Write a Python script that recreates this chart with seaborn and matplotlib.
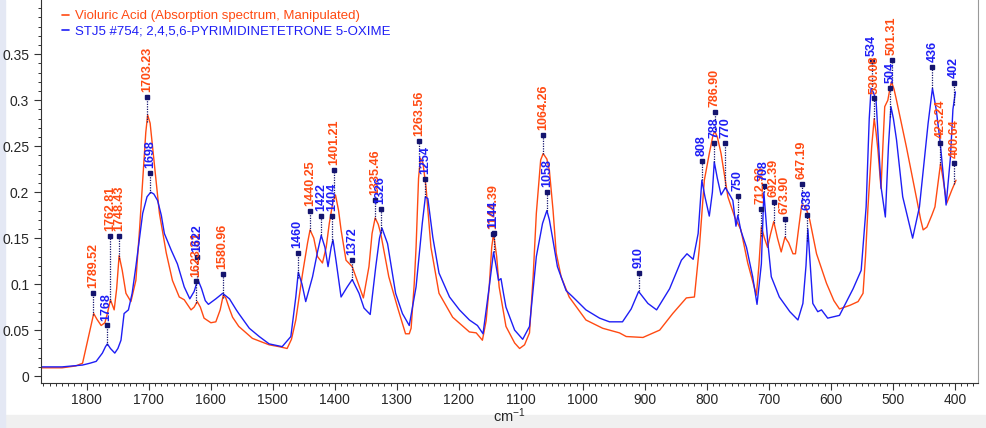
import numpy as np
import pandas as pd
import matplotlib
matplotlib.use("Agg")
import matplotlib.pyplot as plt
from matplotlib.ticker import MultipleLocator
import seaborn as sns

# Violuric Acid (absorption spectrum, manipulated)
red_wn = [1874, 1840, 1818, 1807, 1796, 1789, 1784, 1777, 1771, 1767, 1762, 1756, 1752, 1748,
          1743, 1737, 1729, 1721, 1715, 1710, 1705, 1702, 1698, 1694, 1688, 1683, 1672, 1662,
          1651, 1643, 1632, 1627, 1622, 1617, 1611, 1600, 1592, 1585, 1580, 1576, 1570, 1565,
          1555, 1533, 1506, 1490, 1477, 1470, 1463, 1452, 1444, 1440, 1434, 1428, 1420, 1414,
          1409, 1403, 1399, 1394, 1390, 1382, 1372, 1364, 1354, 1345, 1340, 1335, 1330, 1326,
          1313, 1299, 1286, 1280, 1277, 1272, 1269, 1265, 1262, 1258, 1253, 1245, 1232, 1210,
          1183, 1172, 1162, 1156, 1151, 1147, 1144, 1139, 1135, 1124, 1110, 1102, 1094, 1086,
          1080, 1075, 1068, 1064, 1058, 1054, 1048, 1043, 1035, 1022, 995, 968, 941, 930, 903,
          876, 855, 833, 820, 812, 804, 796, 790, 787, 783, 777, 766, 755, 745, 734, 720, 716,
          712, 707, 702, 697, 692, 686, 680, 674, 668, 661, 657, 652, 647, 641, 634, 623, 607,
          595, 586, 569, 556, 548, 544, 540, 534, 530, 527, 524, 519, 516, 513, 508, 504, 502,
          498, 494, 478, 461, 455, 451, 445, 437, 432, 427, 423, 419, 413, 409, 405, 398]
red_abs = [0.009, 0.009, 0.011, 0.014, 0.047, 0.068, 0.062, 0.055, 0.058, 0.068, 0.083, 0.072,
           0.095, 0.131, 0.115, 0.090, 0.081, 0.104, 0.160, 0.213, 0.265, 0.284, 0.275, 0.249,
           0.210, 0.177, 0.134, 0.104, 0.086, 0.083, 0.072, 0.075, 0.081, 0.075, 0.063, 0.058,
           0.059, 0.072, 0.088, 0.085, 0.073, 0.064, 0.054, 0.041, 0.034, 0.032, 0.030, 0.040,
           0.061, 0.112, 0.145, 0.159, 0.150, 0.130, 0.123, 0.140, 0.166, 0.190, 0.197, 0.180,
           0.159, 0.126, 0.119, 0.104, 0.085, 0.119, 0.155, 0.172, 0.165, 0.155, 0.108, 0.075,
           0.046, 0.046, 0.052, 0.100, 0.140, 0.215, 0.237, 0.232, 0.206, 0.140, 0.090, 0.064,
           0.048, 0.047, 0.039, 0.060, 0.097, 0.140, 0.155, 0.130, 0.097, 0.054, 0.036, 0.030,
           0.034, 0.047, 0.110, 0.177, 0.235, 0.242, 0.236, 0.224, 0.180, 0.134, 0.108, 0.086,
           0.061, 0.052, 0.047, 0.043, 0.042, 0.050, 0.068, 0.085, 0.086, 0.140, 0.213, 0.242,
           0.262, 0.266, 0.260, 0.242, 0.195, 0.173, 0.159, 0.123, 0.088, 0.120, 0.162, 0.150,
           0.140, 0.155, 0.168, 0.150, 0.135, 0.151, 0.145, 0.133, 0.133, 0.160, 0.186, 0.185,
           0.170, 0.133, 0.101, 0.082, 0.073, 0.077, 0.081, 0.090, 0.130, 0.184, 0.250, 0.280,
           0.265, 0.246, 0.204, 0.250, 0.293, 0.300, 0.315, 0.320, 0.312, 0.300, 0.249, 0.191,
           0.170, 0.159, 0.162, 0.175, 0.184, 0.210, 0.231, 0.215, 0.188, 0.195, 0.202, 0.213]

# STJ5 #754 reference spectrum
blue_wn = [1874, 1840, 1807, 1795, 1785, 1775, 1770, 1767, 1762, 1755, 1750, 1745, 1740, 1733,
           1727, 1721, 1710, 1703, 1697, 1692, 1686, 1680, 1675, 1664, 1654, 1643, 1634, 1627,
           1621, 1615, 1609, 1604, 1592, 1581, 1570, 1559, 1555, 1538, 1522, 1506, 1485, 1471,
           1463, 1459, 1453, 1447, 1436, 1428, 1422, 1416, 1411, 1406, 1403, 1398, 1390, 1380,
           1372, 1361, 1353, 1343, 1334, 1328, 1324, 1315, 1302, 1291, 1280, 1269, 1259, 1254,
           1250, 1242, 1232, 1215, 1199, 1183, 1170, 1161, 1151, 1144, 1140, 1136, 1132, 1128,
           1124, 1110, 1097, 1086, 1075, 1065, 1058, 1054, 1049, 1041, 1027, 1016, 995, 973, 957,
           936, 922, 910, 895, 881, 860, 841, 832, 822, 814, 808, 803, 796, 791, 788, 783, 777,
           770, 763, 758, 753, 750, 745, 736, 726, 719, 712, 708, 702, 696, 683, 666, 653, 645,
           640, 637, 633, 629, 621, 615, 605, 586, 564, 551, 543, 538, 535, 531, 527, 519, 512,
           507, 503, 499, 494, 484, 468, 457, 450, 443, 436, 430, 424, 414, 407, 403, 399]
blue_abs = [0.010, 0.010, 0.012, 0.014, 0.016, 0.025, 0.032, 0.035, 0.030, 0.025, 0.030, 0.039,
            0.068, 0.072, 0.090, 0.119, 0.177, 0.195, 0.200, 0.198, 0.191, 0.175, 0.155, 0.137,
            0.122, 0.097, 0.084, 0.092, 0.105, 0.095, 0.082, 0.078, 0.084, 0.090, 0.084, 0.072,
            0.068, 0.052, 0.043, 0.035, 0.032, 0.043, 0.086, 0.113, 0.100, 0.081, 0.108, 0.135,
            0.153, 0.140, 0.119, 0.140, 0.148, 0.125, 0.086, 0.097, 0.105, 0.090, 0.074, 0.067,
            0.119, 0.150, 0.161, 0.144, 0.090, 0.068, 0.055, 0.097, 0.166, 0.195, 0.193, 0.151,
            0.112, 0.086, 0.072, 0.061, 0.055, 0.046, 0.097, 0.135, 0.120, 0.104, 0.106, 0.090,
            0.075, 0.050, 0.040, 0.054, 0.130, 0.166, 0.180, 0.170, 0.151, 0.119, 0.093, 0.086,
            0.072, 0.063, 0.059, 0.059, 0.073, 0.092, 0.079, 0.072, 0.095, 0.126, 0.133, 0.127,
            0.155, 0.213, 0.195, 0.174, 0.200, 0.233, 0.215, 0.197, 0.205, 0.197, 0.191, 0.163,
            0.175, 0.158, 0.140, 0.108, 0.078, 0.122, 0.200, 0.148, 0.108, 0.086, 0.070, 0.061,
            0.079, 0.120, 0.160, 0.120, 0.079, 0.070, 0.072, 0.063, 0.066, 0.095, 0.115, 0.184,
            0.280, 0.313, 0.308, 0.300, 0.206, 0.173, 0.250, 0.293, 0.280, 0.257, 0.195, 0.150,
            0.184, 0.230, 0.275, 0.313, 0.290, 0.257, 0.186, 0.238, 0.290, 0.309]

# peak picks: position, label, height of the marker
red_peak_wn = [1789.52, 1762.81, 1748.43, 1703.23, 1623.31, 1580.96, 1440.25, 1401.21, 1335.46,
               1263.56, 1144.39, 1064.26, 786.90, 712.93, 692.39, 673.90, 647.19, 530.08, 501.31,
               423.24, 400.64]
red_peak_lbl = ["1789.52", "1762.81", "1748.43", "1703.23", "1623.31", "1580.96", "1440.25",
                "1401.21", "1335.46", "1263.56", "1144.39", "1064.26", "786.90", "712.93",
                "692.39", "673.90", "647.19", "530.08", "501.31", "423.24", "400.64"]
red_peak_mark = [0.090, 0.152, 0.152, 0.304, 0.103, 0.111, 0.180, 0.224, 0.192, 0.256, 0.155,
                 0.262, 0.287, 0.182, 0.189, 0.171, 0.209, 0.302, 0.344, 0.254, 0.232]

blue_peak_wn = [1768, 1698, 1622, 1460, 1422, 1404, 1372, 1326, 1254, 1144, 1058, 910, 808, 788,
                770, 750, 708, 638, 534, 504, 436, 402]
blue_peak_lbl = [str(w) for w in blue_peak_wn]
blue_peak_mark = [0.055, 0.221, 0.130, 0.134, 0.174, 0.174, 0.126, 0.182, 0.214, 0.156, 0.200,
                  0.112, 0.234, 0.254, 0.254, 0.196, 0.207, 0.175, 0.343, 0.313, 0.336, 0.319]

RED = "#ff4a12"
BLUE = "#1e1ef5"
NAVY = "#14146e"

sns.set_style("ticks")
plt.rcParams["font.family"] = ["Liberation Sans", "DejaVu Sans"]
plt.rcParams["mathtext.default"] = "regular"

df = pd.concat([
    pd.DataFrame({"wn": red_wn, "abs": red_abs,
                  "serie": "Violuric Acid (Absorption spectrum, Manipulated)"}),
    pd.DataFrame({"wn": blue_wn, "abs": blue_abs,
                  "serie": "STJ5 #754; 2,4,5,6-PYRIMIDINETETRONE 5-OXIME"}),
])

fig = plt.figure(figsize=(9.86, 4.28), dpi=100)
ax = fig.add_axes([0.0416, 0.105, 0.950, 0.895])

sns.lineplot(data=df, x="wn", y="abs", hue="serie", palette=[RED, BLUE],
             estimator=None, sort=True, linewidth=1.0, ax=ax)

# peak markers with dotted drop lines and rotated labels
for wn_list, lbls, marks, xs, ys, col in [
        (red_peak_wn, red_peak_lbl, red_peak_mark, red_wn, red_abs, RED),
        (blue_peak_wn, blue_peak_lbl, blue_peak_mark, blue_wn, blue_abs, BLUE)]:
    xs_a = np.array(xs)[::-1]
    ys_a = np.array(ys)[::-1]
    for w, t, m in zip(wn_list, lbls, marks):
        yc = np.interp(w, xs_a, ys_a)
        ax.plot([w, w], [yc, m], ls=(0, (1, 1)), color=NAVY, lw=0.9, zorder=3)
        ax.plot(w, m, "s", color=NAVY, ms=3.2, zorder=4)
        ax.annotate(t, (w, m), xytext=(0, 3.5), textcoords="offset points",
                    rotation=90, ha="center", va="bottom", fontsize=9,
                    fontweight="bold", color=col, annotation_clip=False, zorder=5)

ax.set_xlim(1874, 363)
ax.set_ylim(-0.0076, 0.409)
ax.xaxis.set_major_locator(MultipleLocator(100))
ax.xaxis.set_minor_locator(MultipleLocator(10))
ax.yaxis.set_major_locator(MultipleLocator(0.05))
ax.yaxis.set_minor_locator(MultipleLocator(0.01))
ax.set_yticks([0, 0.05, 0.1, 0.15, 0.2, 0.25, 0.3, 0.35])
ax.set_yticklabels(["0", "0.05", "0.1", "0.15", "0.2", "0.25", "0.3", "0.35"])
ax.tick_params(axis="both", which="major", labelsize=10, length=5, width=0.8, color="#333333")
ax.tick_params(axis="x", which="major", pad=2)
ax.tick_params(axis="both", which="minor", length=2.5, width=0.7, color="#333333")
ax.set_xlabel("cm$^{-1}$", fontsize=10.5, labelpad=0)
ax.set_ylabel("")

ax.spines["top"].set_visible(False)
ax.spines["right"].set_color("#999999")
ax.spines["left"].set_color("#333333")
ax.spines["bottom"].set_color("#333333")

leg = ax.legend(loc="upper left", bbox_to_anchor=(0.012, 1.0), frameon=False, fontsize=9.5,
                handlelength=0.5, handletextpad=0.5, labelspacing=0.25, borderaxespad=0.35,
                labelcolor="linecolor")
for h in leg.get_lines():
    h.set_linewidth(1.2)

# light window border strips
fig.patches.append(plt.Rectangle((0, 0), 1, 0.03, transform=fig.transFigure,
                                 color="#f0f0f0", zorder=-1))
fig.patches.append(plt.Rectangle((0, 0), 0.005, 1, transform=fig.transFigure,
                                 color="#e4e8f4", zorder=-1))

fig.savefig("out.png", dpi=100)
